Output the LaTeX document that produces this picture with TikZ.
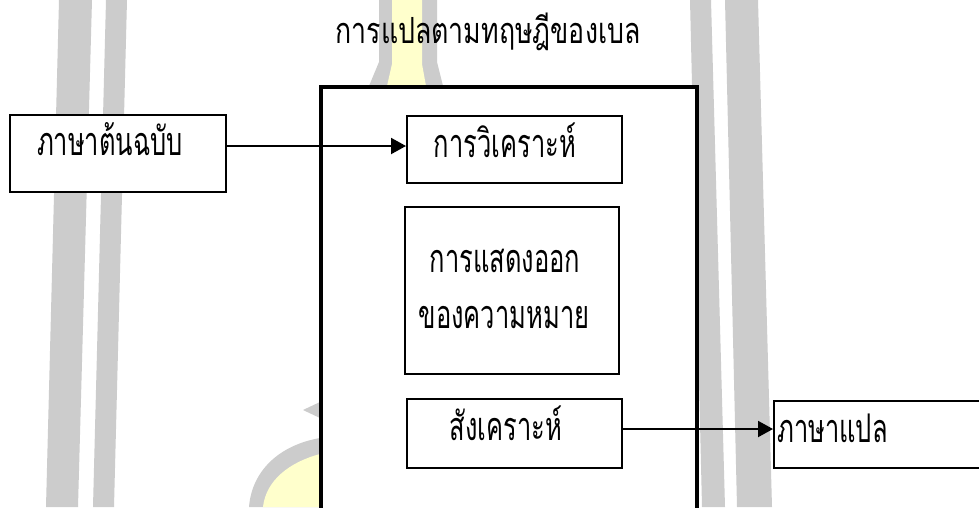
\documentclass[tikz,border=0pt]{standalone}
\usepackage{fontspec}
\usepackage{graphicx}
\setmainfont[Script=Thai]{Loma}
\usetikzlibrary{arrows.meta}
\definecolor{wmgray}{HTML}{CCCCCC}
\definecolor{wmyellow}{HTML}{FFFFCC}
\newcommand\boxtxt[1]{\scalebox{1}[1.55]{#1}}
\newcommand\titletxt[1]{\scalebox{1}[1.35]{#1}}
\begin{document}
\begin{tikzpicture}[x=1pt,y=-1pt,
  box/.style={draw=black, line width=2pt, fill=white, inner sep=0pt},
  txt/.style={font=\fontsize{25.5}{30}\selectfont, inner sep=0pt, anchor=base},
  ttl/.style={font=\fontsize{26.7}{30}\selectfont, inner sep=0pt, anchor=base},
  conn/.style={line width=2pt, -{Triangle[length=15pt,width=16pt]}},
]
\useasboundingbox[fill=white] (0,0) rectangle (979,507);
% watermark
\fill[wmgray] (59,0) -- (92,0) -- (78,507) -- (46,507) -- cycle;
\fill[wmgray] (106,0) -- (127,0) -- (114,507) -- (93,507) -- cycle;
\fill[wmgray] (690,0) -- (711,0) -- (725,507) -- (702,507) -- cycle;
\fill[wmgray] (725,0) -- (758,0) -- (772,507) -- (737,507) -- cycle;
\fill[wmgray] (379,0) -- (437,0) -- (437,62) -- (443,86) -- (369,86) -- (379,62) -- cycle;
\fill[wmyellow] (392,0) -- (422,0) -- (422,64) -- (426,86) -- (387,86) -- (392,64) -- cycle;
\fill[wmgray] (320,438) .. controls (280,445) and (252,470) .. (249,507) -- (320,507) -- cycle;
\fill[wmyellow] (320,454) .. controls (290,462) and (266,480) .. (263,507) -- (320,507) -- cycle;
\fill[wmgray] (303,410) -- (320,402) -- (320,418) -- cycle;

% title
\node[ttl] (title) at (488,43) {\titletxt{การแปลตามทฤษฎีของเบล}};

% outer frame
\node[draw=black, line width=4pt, fill=white, inner sep=0pt, minimum width=376, minimum height=460, anchor=north west] (frame) at (319,85) {};

% boxes
\node[box, minimum width=216, minimum height=77] (src) at (118,153.5) {};
\node[box, minimum width=215, minimum height=67] (ana) at (514.5,149.5) {};
\node[box, minimum width=214, minimum height=167] (mid) at (512,290.5) {};
\node[box, minimum width=215, minimum height=69] (syn) at (514.5,433.5) {};
\node[box, minimum width=226, minimum height=67] (tgt) at (887,434.5) {};

% texts
\node[txt] (srct) at (110,155) {\boxtxt{ภาษาต้นฉบับ}};
\node[txt] (anat) at (505,157) {\boxtxt{การวิเคราะห์}};
\node[txt] (midt1) at (505,272) {\boxtxt{การแสดงออก}};
\node[txt] (midt2) at (504,328) {\boxtxt{ของความหมาย}};
\node[txt] (synt) at (506,440) {\boxtxt{สังเคราะห์}};
\node[txt, anchor=base west] (tgtt) at (777,442) {\boxtxt{ภาษาแปล}};

% connectors
\draw[conn] ([yshift=7.5pt]src.east) -- ([yshift=7.5pt]src.east -| ana.west);
\draw[conn] ([yshift=4.5pt]syn.east) -- ([yshift=4.5pt]syn.east -| tgt.west);
\end{tikzpicture}
\end{document}
